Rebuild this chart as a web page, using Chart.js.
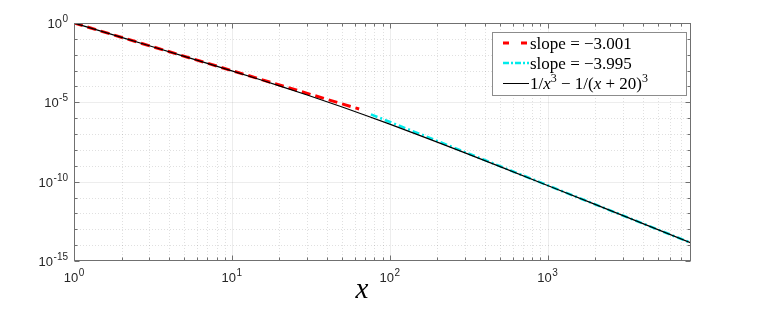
<!DOCTYPE html>
<html>
<head>
<meta charset="utf-8">
<style>
  html, body { margin: 0; padding: 0; background: #fff; }
  #wrap { width: 763px; height: 310px; }
</style>
<script src="https://cdn.jsdelivr.net/npm/chart.js@4"></script>
</head>
<body>
<div id="wrap"><canvas id="decayChart" width="763" height="310"></canvas></div>
<script>
// exact curve 1/x^3 - 1/(x+20)^3
const curveX = [1, 1.5, 2, 3, 5, 7, 10, 15, 20, 30, 50, 70, 100, 150, 200, 300, 500, 1000, 2000, 5000, 8100];
const curveY = [0.9999, 0.2962, 0.1249, 0.03696, 0.007936, 0.002865, 9.63e-4, 2.73e-4, 1.094e-4,
  2.904e-5, 5.085e-6, 1.543e-6, 4.213e-7, 9.28e-8, 3.11e-8, 6.52e-9, 8.88e-10, 5.77e-11,
  3.675e-12, 9.52e-14, 1.387e-14];

// fitted power laws
const fit1X = [1, 10, 64];
const fit1Y = [1.0, 9.977e-4, 3.80e-6];
const fit2X = [76, 1000, 8100];
const fit2Y = [1.752e-6, 5.92e-11, 1.39e-14];

// axis limits and tick labels
const xLimits = [1, 8100];
const yLimits = [1e-15, 1];
const xTickValues = [1, 10, 100, 1000];
const xTickExps = ["0", "1", "2", "3"];
const yTickValues = [1, 1e-5, 1e-10, 1e-15];
const yTickExps = ["0", "-5", "-10", "-15"];

const legendLabels = ["slope = \u22123.001", "slope = \u22123.995"];

const toPoints = (xs, ys) => xs.map((x, i) => ({ x: x, y: ys[i] }));

const axisColor = "#707070";
const textColor = "#262626";

// draws "10" with a superscript exponent centred on (cx, cy)
function drawPower(ctx, exp, cx, cy, align) {
  ctx.font = "13px 'Liberation Sans', Arial, sans-serif";
  const baseW = ctx.measureText("10").width;
  ctx.font = "10px 'Liberation Sans', Arial, sans-serif";
  const expW = ctx.measureText(exp).width;
  const total = baseW + expW + 0.5;
  let left = align === "right" ? cx - total : cx - total / 2;
  ctx.fillStyle = textColor;
  ctx.textBaseline = "alphabetic";
  ctx.textAlign = "left";
  ctx.font = "13px 'Liberation Sans', Arial, sans-serif";
  ctx.fillText("10", left, cy + 7);
  ctx.font = "10px 'Liberation Sans', Arial, sans-serif";
  ctx.fillText(exp, left + baseW + 0.5, cy + 1);
}

// rich text: list of [text, italic, superscript]
function drawRich(ctx, parts, x, y) {
  let cx = x;
  parts.forEach(([t, it, sup]) => {
    const size = sup ? 12 : 17;
    ctx.font = (it ? "italic " : "") + size + "px 'Liberation Serif', 'Times New Roman', serif";
    ctx.fillText(t, cx, sup ? y - 7 : y);
    cx += ctx.measureText(t).width;
  });
}

const matlabAxes = {
  id: "matlabAxes",
  beforeDatasetsDraw(chart) {
    const { ctx, chartArea: a, scales: { x, y } } = chart;
    ctx.save();
    ctx.lineWidth = 1;
    // x grid
    for (let d = 0; d <= 3; d++) {
      for (let m = 1; m <= 9; m++) {
        const v = m * Math.pow(10, d);
        if (v <= xLimits[0] || v >= xLimits[1]) continue;
        const px = Math.round(x.getPixelForValue(v)) + 0.5;
        if (m === 1) { ctx.setLineDash([]); ctx.strokeStyle = "rgba(0,0,0,0.07)"; }
        else { ctx.setLineDash([1, 2]); ctx.strokeStyle = "rgba(0,0,0,0.12)"; }
        ctx.beginPath(); ctx.moveTo(px, a.top); ctx.lineTo(px, a.bottom); ctx.stroke();
      }
    }
    // y grid
    for (let k = 1; k < 15; k++) {
      const py = Math.round(y.getPixelForValue(Math.pow(10, -k))) + 0.5;
      if (k % 5 === 0) { ctx.setLineDash([]); ctx.strokeStyle = "rgba(0,0,0,0.07)"; }
      else { ctx.setLineDash([1, 2]); ctx.strokeStyle = "rgba(0,0,0,0.12)"; }
      ctx.beginPath(); ctx.moveTo(a.left, py); ctx.lineTo(a.right, py); ctx.stroke();
    }
    ctx.restore();
  },
  afterDatasetsDraw(chart) {
    const { ctx, chartArea: a, scales: { x, y } } = chart;
    ctx.save();
    ctx.setLineDash([]);
    ctx.strokeStyle = axisColor;
    ctx.lineWidth = 1;
    const L = Math.round(a.left) + 0.5, R = Math.round(a.right) - 0.5;
    const T = Math.round(a.top) + 0.5, B = Math.round(a.bottom) - 0.5;
    ctx.strokeRect(L, T, R - L, B - T);

    // x ticks, top and bottom
    ctx.beginPath();
    for (let d = 0; d <= 3; d++) {
      for (let m = 1; m <= 9; m++) {
        const v = m * Math.pow(10, d);
        if (v < xLimits[0] || v > xLimits[1]) continue;
        const px = Math.round(x.getPixelForValue(v)) + 0.5;
        const len = m === 1 ? 5 : 3;
        ctx.moveTo(px, B); ctx.lineTo(px, B - len);
        ctx.moveTo(px, T); ctx.lineTo(px, T + len);
      }
    }
    // y ticks, left and right
    for (let k = 0; k <= 15; k++) {
      const py = Math.round(y.getPixelForValue(Math.pow(10, -k))) + 0.5;
      const len = k % 5 === 0 ? 5 : 3;
      ctx.moveTo(L, py); ctx.lineTo(L + len, py);
      ctx.moveTo(R, py); ctx.lineTo(R - len, py);
    }
    ctx.stroke();

    // tick labels
    xTickValues.forEach((v, i) => drawPower(ctx, xTickExps[i], x.getPixelForValue(v), a.bottom + 14, "center"));
    yTickValues.forEach((v, i) => drawPower(ctx, yTickExps[i], a.left - 6, y.getPixelForValue(v) - 2, "right"));

    // axis label
    ctx.fillStyle = "#000";
    ctx.font = "italic 29px 'Liberation Serif', 'Times New Roman', serif";
    ctx.textAlign = "center";
    ctx.fillText("x", 362, 298);

    // legend
    const bx = 492, by = 32, bw = 194, bh = 63;
    ctx.fillStyle = "#fff";
    ctx.fillRect(bx, by, bw, bh);
    ctx.strokeStyle = "#8c8c8c";
    ctx.strokeRect(bx + 0.5, by + 0.5, bw, bh);
    const rows = [43, 63, 83];
    ctx.lineCap = "butt";
    // red sample
    ctx.strokeStyle = "#ff0000"; ctx.lineWidth = 3; ctx.setLineDash([6, 12]);
    ctx.beginPath(); ctx.moveTo(503, rows[0]); ctx.lineTo(528, rows[0]); ctx.stroke();
    // cyan sample
    ctx.strokeStyle = "rgb(0,235,235)"; ctx.lineWidth = 2.5; ctx.setLineDash([6, 2, 2, 2]);
    ctx.beginPath(); ctx.moveTo(503, rows[1]); ctx.lineTo(529, rows[1]); ctx.stroke();
    // black sample
    ctx.strokeStyle = "#000"; ctx.lineWidth = 1; ctx.setLineDash([]);
    ctx.beginPath(); ctx.moveTo(503, rows[2] + 0.5); ctx.lineTo(529, rows[2] + 0.5); ctx.stroke();

    ctx.fillStyle = "#000";
    ctx.textAlign = "left";
    ctx.textBaseline = "alphabetic";
    drawRich(ctx, [[legendLabels[0], false, false]], 530, rows[0] + 6);
    drawRich(ctx, [[legendLabels[1], false, false]], 530, rows[1] + 6);
    drawRich(ctx, [["1/", false, false], ["x", true, false], ["3", false, true],
      [" \u2212 1/(", false, false], ["x", true, false], [" + 20)", false, false], ["3", false, true]],
      530, rows[2] + 6);
    ctx.restore();
  }
};

new Chart(document.getElementById("decayChart"), {
  type: "scatter",
  data: {
    datasets: [
      {
        label: "curve",
        data: toPoints(curveX, curveY),
        showLine: true,
        borderColor: "#000",
        borderWidth: 1.2,
        pointRadius: 0,
        order: 0,
      },
      {
        label: legendLabels[0],
        data: toPoints(fit1X, fit1Y),
        showLine: true,
        borderColor: "#ff0000",
        borderWidth: 3,
        borderDash: [9, 5],
        pointRadius: 0,
        order: 1,
      },
      {
        label: legendLabels[1],
        data: toPoints(fit2X, fit2Y),
        showLine: true,
        borderColor: "rgb(0,235,235)",
        borderWidth: 2.6,
        borderDash: [7, 3, 2, 3],
        pointRadius: 0,
        order: 2,
      },
    ],
  },
  options: {
    responsive: false,
    animation: false,
    devicePixelRatio: 1,
    layout: { padding: { left: 74, right: 72, top: 23, bottom: 49 } },
    scales: {
      x: { type: "logarithmic", min: xLimits[0], max: xLimits[1], display: false },
      y: { type: "logarithmic", min: yLimits[0], max: yLimits[1], display: false },
    },
    plugins: {
      legend: { display: false },
      tooltip: { enabled: false },
    },
  },
  plugins: [matlabAxes],
});
</script>
</body>
</html>
